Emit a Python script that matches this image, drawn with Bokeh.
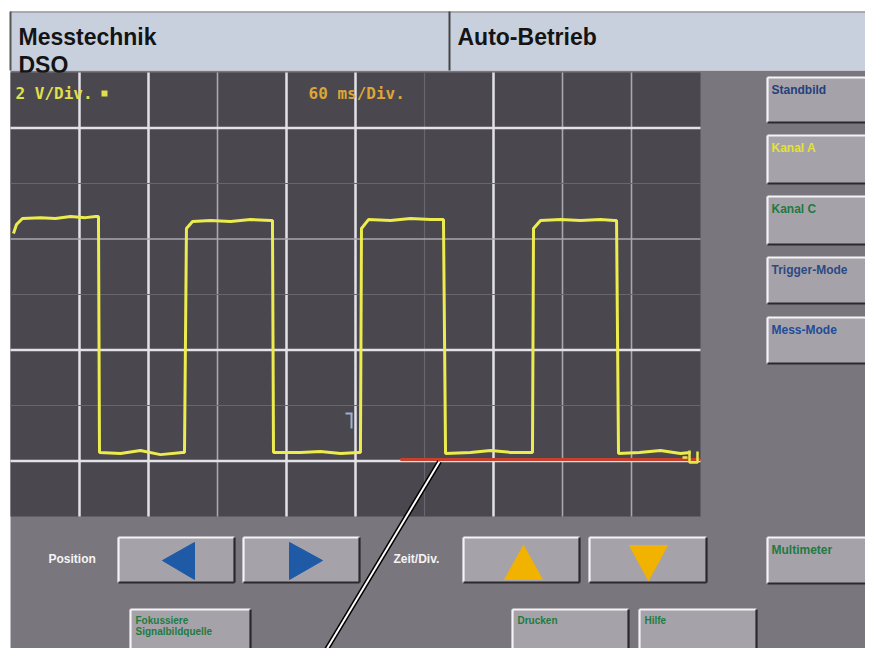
from bokeh.plotting import figure
from bokeh.models import Range1d
from bokeh.core.properties import value
from bokeh.embed import file_html
from bokeh.resources import INLINE

# ------------------------------------------------------------------ data
MS_PER_DIV = 60          # "60 ms/Div."
V_PER_DIV = 2            # "2 V/Div."
X_DIVS = 10
Y_DIVS = 8
V_BOTTOM = -2            # ground marker sits one division above the bottom

TIME_MS = [2.6, 5.2, 10.4, 26.1, 39.1, 52.2, 65.2, 73.9, 76.5, 77.4,
           95.7, 113.0, 130.4, 149.6, 151.3, 153.0, 158.3, 173.9, 191.3, 208.7,
           226.1, 227.8, 228.7, 252.2, 269.6, 287.0, 302.6, 304.3, 305.2, 311.3,
           330.4, 347.8, 365.2, 374.8, 376.5, 378.3, 400.0, 417.4, 434.8, 452.2,
           453.9, 454.8, 460.9, 478.3, 495.7, 513.0, 525.2, 527.0, 528.7, 547.0,
           565.2, 582.6, 591.3]
VOLTS = [8.20, 8.52, 8.74, 8.77, 8.74, 8.81, 8.77, 8.81, 8.81, 0.31,
         0.27, 0.38, 0.23, 0.31, 0.31, 8.38, 8.63, 8.67, 8.63, 8.70,
         8.67, 8.67, 0.31, 0.31, 0.34, 0.27, 0.31, 0.31, 8.38, 8.70,
         8.67, 8.74, 8.70, 8.70, 8.70, 0.27, 0.31, 0.38, 0.31, 0.31,
         0.31, 8.38, 8.67, 8.70, 8.67, 8.70, 8.67, 8.67, 0.27, 0.31,
         0.38, 0.27, 0.31]
assert len(TIME_MS) == len(VOLTS)

REF_LEVEL_V = 0.05        # red reference line
REF_START_MS = 339

# grid line emphasis, vertical k=1..9 and horizontal k=1..7 (from bottom)
VGRID_STYLE = ["bright", "bright", "mid", "bright", "bright", "faint", "bright", "mid", "mid"]
HGRID_STYLE = ["bright", "faint", "bright", "faint", "mid", "faint", "bright"]

HEADER_LEFT = ["Messtechnik", "DSO"]
HEADER_RIGHT = "Auto-Betrieb"
SIDE_BUTTONS = ["Standbild", "Kanal A", "Kanal C", "Trigger-Mode", "Mess-Mode", "Multimeter"]
SIDE_COLORS = ["#23407a", "#e2e238", "#1f7a3e", "#2c4a82", "#214c98", "#1f7a3e"]
ROW_LABELS = ["Position", "Zeit/Div."]
BOTTOM_BUTTONS = [["Fokussiere", "Signalbildquelle"], ["Drucken"], ["Hilfe"]]

# ------------------------------------------------------------------ geometry (screen px)
W, H = 865, 648
PX0, PY0 = 0, 0
SX0, SX1, SY0, SY1 = 10, 700, 72, 516  # scope screen

tpp = X_DIVS * MS_PER_DIV / (SX1 - SX0)
vpp = Y_DIVS * V_PER_DIV / (SY1 - SY0)
t_start = (PX0 - SX0) * tpp
t_end = (PX0 + W - SX0) * tpp
v_start = V_BOTTOM + (SY1 - (PY0 + H)) * vpp
v_end = V_BOTTOM + (SY1 - PY0) * vpp

p = figure(width=W, height=H, output_backend="svg", toolbar_location=None,
           x_range=Range1d(PX0, PX0 + W), y_range=Range1d(PY0 + H, PY0),
           x_axis_type=None, y_axis_type=None, min_border=0)
p.outline_line_color = None
p.background_fill_color = "white"
p.border_fill_color = "white"
p.extra_x_ranges = {"t": Range1d(t_start, t_end)}
p.extra_y_ranges = {"v": Range1d(v_start, v_end)}

FONT = value("Liberation Sans")
MONO = value("DejaVu Sans Mono")

# panel background
p.quad(left=[10], right=[890], top=[70], bottom=[670], fill_color="#7a767e", line_color=None)
# header
p.quad(left=[10], right=[890], top=[11], bottom=[70], fill_color="#c8d0de", line_color=None)
p.segment(x0=[10, 10, 449], y0=[11.5, 11, 11], x1=[890, 10, 449], y1=[11.5, 70, 70],
          line_color=["#9a9aa0", "#555", "#444"], line_width=[1.5, 2, 2])
p.text(x=[18, 18, 457], y=[36, 64, 36], text=[HEADER_LEFT[0], HEADER_LEFT[1], HEADER_RIGHT],
       text_font=FONT, text_font_style="bold", text_font_size=value("23px"),
       text_color="#141414", text_baseline="alphabetic", text_align="left")

# scope screen
p.quad(left=[SX0], right=[SX1], top=[SY0], bottom=[SY1], fill_color="#4a474f", line_color=None)

STY = {"bright": ("#e4e2e8", 2.5), "mid": ("#a9a7af", 1.6), "faint": ("#67656e", 1.2)}
tx = [MS_PER_DIV * (k + 1) for k in range(len(VGRID_STYLE))]
p.segment(x0=tx, x1=tx, y0=[V_BOTTOM] * len(tx), y1=[V_BOTTOM + Y_DIVS * V_PER_DIV] * len(tx),
          line_color=[STY[s][0] for s in VGRID_STYLE], line_width=[STY[s][1] for s in VGRID_STYLE],
          x_range_name="t", y_range_name="v")
vy = [V_BOTTOM + V_PER_DIV * (k + 1) for k in range(len(HGRID_STYLE))]
p.segment(x0=[0] * len(vy), x1=[X_DIVS * MS_PER_DIV] * len(vy), y0=vy, y1=vy,
          line_color=[STY[s][0] for s in HGRID_STYLE], line_width=[STY[s][1] for s in HGRID_STYLE],
          x_range_name="t", y_range_name="v")

# red reference line
p.line([REF_START_MS, X_DIVS * MS_PER_DIV], [REF_LEVEL_V, REF_LEVEL_V], line_color="#c8402c",
       line_width=3, x_range_name="t", y_range_name="v")

# trace
p.line(TIME_MS, VOLTS, line_color="#ecec4e", line_width=3, x_range_name="t", y_range_name="v")

# scope labels
p.text(x=[15], y=[93], text=["2 V/Div."], text_font=MONO, text_font_style="bold",
       text_font_size=value("16px"), text_color="#e0e04a", text_baseline="middle")
p.quad(left=[101], right=[107], top=[90], bottom=[96], fill_color="#e0e04a", line_color=None)
p.text(x=[308], y=[93], text=["60 ms/Div."], text_font=MONO, text_font_style="bold",
       text_font_size=value("16px"), text_color="#dca636", text_baseline="middle")

# trigger marker and ground marker
p.multi_line(xs=[[345, 352], [351, 351]], ys=[[413, 413], [413, 428]], line_color="#9cb2d4", line_width=2)
p.multi_line(xs=[[682, 687], [689, 689, 697, 697]], ys=[[457, 457], [450, 462, 462, 451]],
             line_color="#e8e84c", line_width=2.5)

# buttons
def bevel(boxes):
    p.quad(left=[b[0] for b in boxes], right=[b[2] for b in boxes],
           top=[b[1] for b in boxes], bottom=[b[3] for b in boxes],
           fill_color="#a6a2aa", line_color=None)
    xs, ys, cs = [], [], []
    for x0, y0, x1, y1 in boxes:
        xs += [[x0, x1], [x0, x0], [x0, x1], [x1, x1]]
        ys += [[y0, y0], [y0, y1], [y1, y1], [y0, y1]]
        cs += ["#f4f4f6", "#f4f4f6", "#2a2a2e", "#2a2a2e"]
    p.multi_line(xs=xs, ys=ys, line_color=cs, line_width=2.2)

side_boxes = [(767, 77, 890, 122), (767, 135, 890, 183), (767, 196, 890, 244),
              (767, 257, 890, 303), (767, 317, 890, 363), (767, 537, 890, 583)]
arrow_boxes = [(118, 537, 234, 582), (243, 537, 359, 582), (463, 537, 579, 582), (589, 537, 706, 582)]
bottom_boxes = [(130, 609, 250, 662), (512, 609, 628, 662), (639, 609, 756, 662)]
bevel(side_boxes + arrow_boxes + bottom_boxes)

p.text(x=[b[0] + 4 for b in side_boxes], y=[b[1] + 12 for b in side_boxes], text=SIDE_BUTTONS,
       text_font=FONT, text_font_style="bold", text_font_size=value("12px"),
       text_color=SIDE_COLORS, text_baseline="middle")

p.text(x=[48, 393], y=[558, 558], text=ROW_LABELS, text_font=FONT, text_font_style="bold",
       text_font_size=value("12px"), text_color="#f4f4f4", text_baseline="middle")

bx, by, bt = [], [], []
for box, lines in zip(bottom_boxes, BOTTOM_BUTTONS):
    for i, s in enumerate(lines):
        bx.append(box[0] + 5)
        by.append(box[1] + 11 + 11 * i)
        bt.append(s)
p.text(x=bx, y=by, text=bt, text_font=FONT, text_font_style="bold", text_font_size=value("10px"),
       text_color="#1f7a3e", text_baseline="middle")

# arrows
p.patches(xs=[[162, 194, 194], [322, 289, 289]], ys=[[560, 542, 579], [560, 542, 579]],
          fill_color="#1f5aa6", line_color="#1f5aa6")
p.patches(xs=[[523, 504, 542], [648, 629, 667]], ys=[[545, 579, 579], [580, 545, 545]],
          fill_color="#f2b200", line_color="#f2b200")

# callout line
p.line([439, 317], [461, 664], line_color="black", line_width=5)
p.line([439, 317], [461, 664], line_color="white", line_width=2)

open("out.html", "w").write(file_html(p, INLINE))
